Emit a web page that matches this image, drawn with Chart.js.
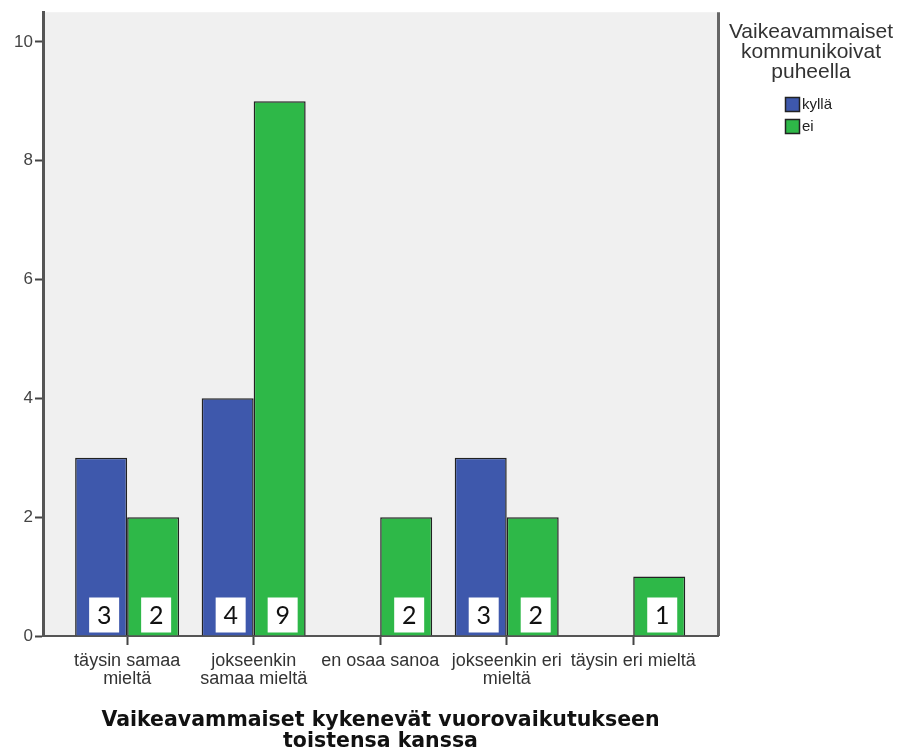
<!DOCTYPE html>
<html><head><meta charset="utf-8">
<script src="https://cdn.jsdelivr.net/npm/chart.js@4/dist/chart.umd.min.js"></script>
<style>html,body{margin:0;padding:0;background:#fff;}</style>
</head><body>
<canvas id="c" width="899" height="748"></canvas>
<script>
const categories = [["täysin samaa","mieltä"],["jokseenkin","samaa mieltä"],["en osaa sanoa"],["jokseenkin eri","mieltä"],["täysin eri mieltä"]];
const seriesNames = ["kyllä","ei"];
const kylla = [3,4,0,3,0];
const ei = [2,9,2,2,1];
const yTicks = [0,2,4,6,8,10];
const legendTitle = ["Vaikeavammaiset","kommunikoivat","puheella"];
const axisTitle = ["Vaikeavammaiset kykenevät vuorovaikutukseen","toistensa kanssa"];
const colors = ["#3E58AC","#2EB848"];

const toPoints = arr => arr.map((v,i)=>({x:i, y: v === 0 ? null : v}));

const deco = {
  id:'deco',
  beforeDraw(chart){
    const {ctx, chartArea:a} = chart;
    ctx.save();
    ctx.fillStyle = '#f0f0f0';
    ctx.fillRect(a.left, a.top, a.right-a.left, a.bottom-a.top);
    ctx.strokeStyle = '#666';
    ctx.lineWidth = 3;
    ctx.beginPath(); ctx.moveTo(a.right+0.5, a.top); ctx.lineTo(a.right+0.5, a.bottom); ctx.stroke();
    ctx.restore();
  },
  afterDatasetsDraw(chart){
    const ctx = chart.ctx;
    ctx.save();
    chart.data.datasets.forEach((ds, di)=>{
      const meta = chart.getDatasetMeta(di);
      meta.data.forEach((el, i)=>{
        const v = ds.data[i].y;
        if (v === null || v === undefined) return;
        const w = 30, h = 35;
        const cx = el.x + 3;
        const bottom = el.base - 3;
        ctx.fillStyle = '#ffffff';
        ctx.fillRect(cx - w/2, bottom - h, w, h);
        ctx.fillStyle = '#111';
        ctx.font = '25px Lato';
        ctx.textAlign = 'center';
        ctx.textBaseline = 'middle';
        ctx.fillText(String(v), cx, bottom - h/2 + 1);
      });
    });
    ctx.restore();
  },
  afterDraw(chart){
    const ctx = chart.ctx;
    ctx.save();
    ctx.fillStyle = '#333';
    ctx.font = '21px "Liberation Sans"';
    ctx.textAlign = 'center';
    ctx.textBaseline = 'middle';
    legendTitle.forEach((t,i)=> ctx.fillText(t, 811, 32 + i*20));
    chart.data.datasets.forEach((ds,i)=>{
      const y = 97 + i*22;
      ctx.fillStyle = ds.backgroundColor;
      ctx.fillRect(785, y, 15, 15);
      ctx.strokeStyle = '#222'; ctx.lineWidth = 1.5;
      ctx.strokeRect(785.5, y+0.5, 14, 14);
      ctx.fillStyle = '#222';
      ctx.font = '15px "Liberation Sans"';
      ctx.textAlign = 'left';
      ctx.fillText(ds.label, 802, y + 8);
    });
    ctx.restore();
  }
};

new Chart(document.getElementById('c'), {
  type: 'bar',
  data: {
    datasets: [
      {label: seriesNames[0], data: toPoints(kylla), backgroundColor: colors[0], borderColor:'#222', borderWidth:1.5},
      {label: seriesNames[1], data: toPoints(ei), backgroundColor: colors[1], borderColor:'#222', borderWidth:1.5}
    ]
  },
  options: {
    responsive: false,
    animation: false,
    categoryPercentage: 0.822,
    barPercentage: 1,
    layout: {padding: {top:10, right:181, left:0, bottom:0}},
    plugins: {legend:{display:false}, tooltip:{enabled:false}},
    scales: {
      x: {
        type: 'linear', min: -0.665, max: 4.67, offset: false,
        afterBuildTicks: s => { s.ticks = categories.map((c,i)=>({value:i})); },
        afterFit: s => { s.height = 112; },
        ticks: {callback: v => categories[v], font:{family:'Liberation Sans', size:18, lineHeight:1.0}, color:'#333', padding:7, maxRotation:0, autoSkip:false},
        grid: {offset:false, drawOnChartArea:false, drawTicks:true, tickLength:9, tickColor:'#444', tickWidth:2},
        border: {color:'#555', width:2},
        title: {display:true, text: axisTitle, font:{family:'DejaVu Sans', size:20.5, weight:'bold', lineHeight:1.03}, color:'#111', padding:{top:4,bottom:-4}}
      },
      y: {
        min: 0, max: 10.5,
        afterBuildTicks: s => { s.ticks = yTicks.map(v=>({value:v})); },
        afterFit: s => { s.width = 43; },
        ticks: {font:{family:'Liberation Sans', size:17}, color:'#444', padding:2},
        grid: {drawOnChartArea:false, drawTicks:true, tickLength:8, tickColor:'#444', tickWidth:2},
        border: {color:'#555', width:3}
      }
    }
  },
  plugins: [deco]
});
</script>
</body></html>
